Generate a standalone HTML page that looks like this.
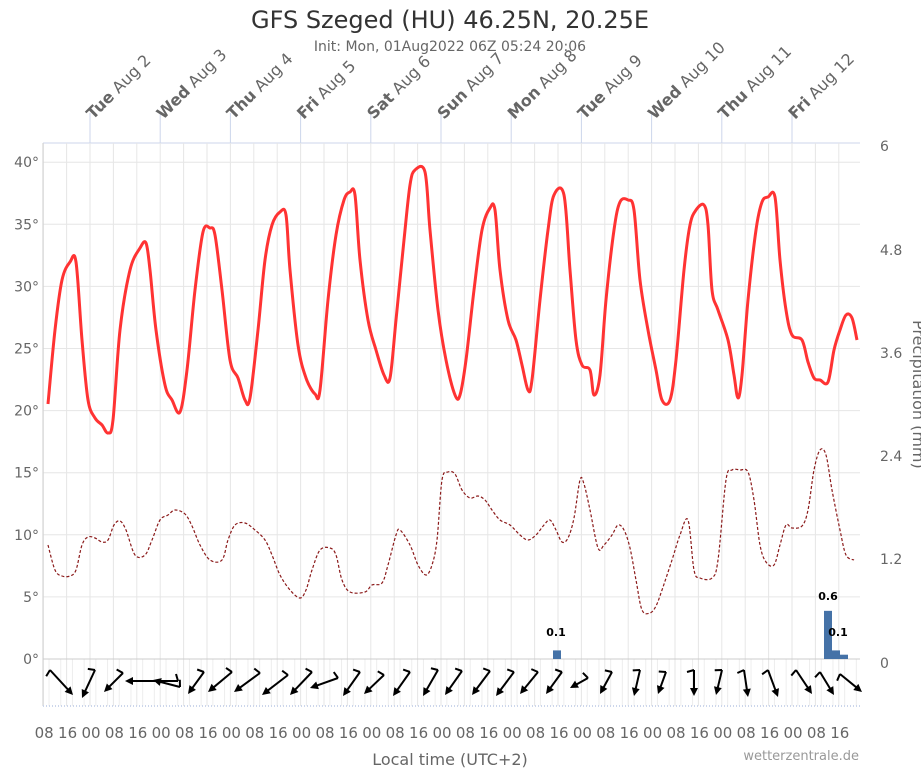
<!DOCTYPE html>
<html><head><meta charset="utf-8"><style>
body{margin:0;background:#fff;}
svg{display:block;font-family:"DejaVu Sans","Liberation Sans",sans-serif;}
</style></head><body>
<svg id="s" width="921" height="768" viewBox="0 0 921 768" xmlns="http://www.w3.org/2000/svg">
<text x="450" y="28" text-anchor="middle" font-size="24" fill="#333">GFS Szeged (HU) 46.25N, 20.25E</text>
<text x="450" y="51" text-anchor="middle" font-size="14" fill="#666">Init: Mon, 01Aug2022 06Z 05:24 20:06</text>
<g id="grid"></g>
<g id="tem"></g>
<text x="450" y="765" text-anchor="middle" font-size="16" fill="#666">Local time (UTC+2)</text>
<text x="859" y="760" text-anchor="end" font-size="13" fill="#999">wetterzentrale.de</text>
<text transform="translate(913,320) rotate(90)" font-size="16" fill="#666">Precipitation (mm)</text>
</svg>
<script>
const NS="http://www.w3.org/2000/svg";
const g=document.getElementById('grid'),t=document.getElementById('tem');
function el(p,n,a,txt){const e=document.createElementNS(NS,n);for(const k in a)e.setAttribute(k,a[k]);if(txt!==undefined)e.textContent=txt;p.appendChild(e);return e;}
const X0=43.2,D=70.2,H=D/24;
const L=43,R=860,T=143,B=659;
function ty(v){return 659-v*12.42;}
for(let v=0;v<=40;v+=5){el(g,'line',{x1:L,x2:R,y1:ty(v),y2:ty(v),stroke:'#e6e6e6'});el(g,'text',{x:39,y:ty(v)+5,'text-anchor':'end','font-size':14,fill:'#666'},v+'°');}
el(g,'line',{x1:L,x2:R,y1:T,y2:T,stroke:'#ccd6eb'});
[[6,147],[4.8,251],[3.6,354],[2.4,457],[1.2,560],[0,664]].forEach(a=>el(g,'text',{x:880,y:a[1]+4,'font-size':14,fill:'#666'},a[0]));
const lab=['08','16','00'];
for(let i=0;i<35;i++){const x=X0+i*8*H;if(x>R)break;
 el(g,'line',{x1:x,x2:x,y1:T,y2:706,stroke:'#e6e6e6'});
 el(g,'text',{x:x+1,y:738,'text-anchor':'middle','font-size':15,fill:'#666'},lab[i%3]);}
for(let i=0;i<70;i++){const x=X0+i*4*H;if(x>R)break;el(g,'line',{x1:x+2*H,x2:x+2*H,y1:659,y2:706,stroke:'#eee'});}
el(g,'line',{x1:L,x2:L,y1:T,y2:706,stroke:'#ccc'});
el(g,'line',{x1:L,x2:R,y1:706,y2:706,stroke:'#ccd6eb','stroke-width':2,'stroke-dasharray':'1 2'});
el(g,'line',{x1:L,x2:R,y1:659,y2:659,stroke:'#ccc'});
const days=[['Tue','2'],['Wed','3'],['Thu','4'],['Fri','5'],['Sat','6'],['Sun','7'],['Mon','8'],['Tue','9'],['Wed','10'],['Thu','11'],['Fri','12']];
days.forEach((d,i)=>{const x=X0+16*H+i*D;el(g,'line',{x1:x,x2:x,y1:113,y2:T,stroke:'#ccd6eb'});
 const tx=el(g,'text',{transform:`translate(${x+3},${120}) rotate(-45)`,'font-size':16,fill:'#666'});
 el(tx,'tspan',{'font-weight':'bold'},d[0]);el(tx,'tspan',{},' Aug '+d[1]);});
function bar(x,v){const h=v*86;el(t,'rect',{x:x,y:659-h,width:8,height:h,fill:'#4572a7'});}
bar(553,0.1);bar(824,0.56);bar(832,0.1);bar(840,0.05);
el(t,'text',{x:556,y:636,'text-anchor':'middle','font-size':11,'font-weight':'bold',fill:'#000'},'0.1');
el(t,'text',{x:828,y:600,'text-anchor':'middle','font-size':11,'font-weight':'bold',fill:'#000'},'0.6');
el(t,'text',{x:838,y:636,'text-anchor':'middle','font-size':11,'font-weight':'bold',fill:'#000'},'0.1');
function path(pts){let d='M'+pts[0][0]+','+pts[0][1];for(let i=0;i<pts.length-1;i++){const p0=pts[Math.max(0,i-1)],p1=pts[i],p2=pts[i+1],p3=pts[Math.min(pts.length-1,i+2)];
 d+=` C${p1[0]+(p2[0]-p0[0])/6},${p1[1]+(p2[1]-p0[1])/6} ${p2[0]-(p3[0]-p1[0])/6},${p2[1]-(p3[1]-p1[1])/6} ${p2[0]},${p2[1]}`;}return d;}
const red=[[48,404],[55,330],[62,280],[70,262],[76,262],[82,340],[88,400],[95,418],[102,425],[108,433],[113,420],[120,330],[130,270],[140,248],[146,243],[150,270],[156,330],[165,385],[172,400],[180,412],[187,370],[195,290],[203,232],[210,228],[215,235],[222,290],[230,360],[238,378],[245,400],[250,398],[258,330],[265,260],[272,225],[280,212],[286,215],[290,270],[298,345],[306,378],[315,394],[320,390],[328,300],[336,235],[344,200],[350,192],[355,195],[360,260],[368,320],[376,350],[384,375],[390,378],[396,320],[404,240],[410,185],[415,170],[425,172],[430,230],[438,310],[446,360],[455,395],[460,395],[466,360],[474,290],[482,230],[490,208],[495,210],[500,270],[508,320],[516,340],[522,365],[528,390],[532,380],[540,300],[548,230],[554,195],[564,195],[570,270],[576,340],[582,365],[590,370],[594,395],[600,375],[606,300],[614,230],[620,202],[628,200],[634,210],[640,280],[648,330],[656,370],[662,400],[670,400],[676,360],[684,270],[690,225],[696,210],[704,205],[708,225],[712,290],[718,310],[728,340],[734,375],[738,398],[742,375],[748,300],[756,230],[762,202],[768,197],[775,197],[780,260],[786,310],[792,335],[802,340],[808,362],[814,378],[820,380],[828,382],[834,350],[840,330],[846,315],[852,318],[857,340]];
const dew=[[48,545],[55,570],[62,576],[70,576],[76,570],[82,545],[88,537],[95,538],[102,542],[108,540],[114,525],[120,521],[126,530],[135,555],[145,555],[152,540],[160,520],[168,515],[175,510],[185,514],[192,526],[200,545],[210,560],[222,560],[228,540],[235,525],[245,523],[255,530],[265,540],[272,555],[280,575],[290,590],[300,598],[306,590],[312,570],[320,550],[330,548],[336,555],[342,580],[350,592],[365,592],[372,585],[382,583],[388,565],[396,535],[400,530],[410,545],[418,565],[426,575],[432,565],[437,540],[442,480],[448,472],[455,474],[462,490],[470,498],[478,496],[485,500],[492,510],[500,520],[510,525],[520,535],[528,540],[536,535],[544,525],[550,520],[556,530],[562,542],[568,538],[574,518],[580,480],[584,484],[590,510],[598,548],[604,545],[612,535],[618,525],[624,530],[630,548],[636,580],[642,610],[650,613],[656,606],[662,590],[672,560],[680,535],[688,520],[694,570],[700,578],[712,578],[718,560],[726,480],[732,470],[740,470],[748,472],[754,500],[760,545],[766,562],[774,565],[780,545],[786,525],[792,528],[802,526],[808,510],[814,470],[820,450],[826,455],[832,490],[840,530],[846,555],[854,560]];
el(t,'path',{d:path(dew),fill:'none',stroke:'#8b1a1a','stroke-width':1.2,'stroke-dasharray':'3 2'});
el(t,'path',{d:path(red),fill:'none',stroke:'#f33','stroke-width':3});
const w=[[50,670,73,695],[95,670,82,698],[123,673,104,692],[178,681,125,681],[180,687,153,680],[204,672,188,694],[232,672,208,692],[260,673,234,692],[288,675,262,695],[312,672,290,695],[338,678,310,688],[360,672,343,696],[384,675,364,694],[410,672,393,696],[438,670,423,696],[462,671,445,695],[490,671,472,695],[514,672,496,696],[538,672,520,694],[562,672,546,694],[588,678,570,688],[612,672,600,694],[640,670,634,696],[666,672,658,694],[694,670,694,696],[722,670,716,695],[744,670,748,697],[768,670,778,697],[796,670,812,694],[820,672,834,695],[840,674,862,692]];
w.forEach(a=>{const[x1,y1,x2,y2]=a;const dx=x2-x1,dy=y2-y1,l=Math.hypot(dx,dy),ux=dx/l,uy=dy/l;
 el(t,'line',{x1:x1,y1:y1,x2:x2-ux*5,y2:y2-uy*5,stroke:'#000','stroke-width':2});
 el(t,'polygon',{points:`${x2},${y2} ${x2-ux*8-uy*4},${y2-uy*8+ux*4} ${x2-ux*8+uy*4},${y2-uy*8-ux*4}`,fill:'#000'});
 el(t,'line',{x1:x1,y1:y1,x2:x1-uy*7+ux*2,y2:y1+ux*7+uy*2,stroke:'#000','stroke-width':2});});
</script>
</body></html>
